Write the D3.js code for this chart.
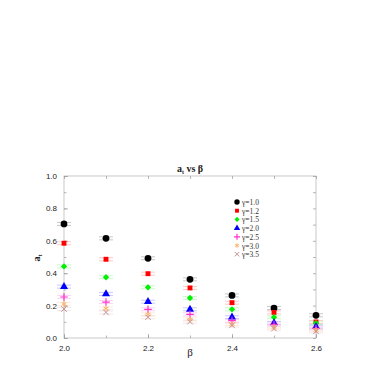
<!DOCTYPE html>
<html>
<head>
<meta charset="utf-8">
<script src="https://cdn.jsdelivr.net/npm/d3@7"></script>
<style>
  body { margin: 0; background: #fff; }
  svg { display: block; }
</style>
</head>
<body>
<div id="host"><svg></svg></div>
<script>
const W = 382;
const H = 382;
const M = { left: 64, right: 66, top: 176, bottom: 44 };

const BETAS = [2.0, 2.1, 2.2, 2.3, 2.4, 2.5, 2.6];
const GAMMAS = ["1.0", "1.2", "1.5", "2.0", "2.5", "3.0", "3.5"];
const SERIES_G10 = [0.704, 0.615, 0.492, 0.362, 0.263, 0.185, 0.14];
const SERIES_G12 = [0.585, 0.486, 0.397, 0.309, 0.218, 0.158, 0.099];
const SERIES_G15 = [0.442, 0.375, 0.313, 0.247, 0.177, 0.128, 0.091];
const SERIES_G20 = [0.317, 0.272, 0.224, 0.177, 0.128, 0.093, 0.07];
const SERIES_G25 = [0.253, 0.222, 0.177, 0.146, 0.107, 0.084, 0.06];
const SERIES_G30 = [0.21, 0.183, 0.146, 0.115, 0.086, 0.066, 0.049];
const SERIES_G35 = [0.179, 0.158, 0.128, 0.101, 0.078, 0.058, 0.041];
const X_TICKS = [2.0, 2.2, 2.4, 2.6];
const Y_TICKS = [0, 0.2, 0.4, 0.6, 0.8, 1.0];

const COLORS = ["#000000", "#ff0000", "#00ee00", "#0000ff", "#ff33cc", "#ffb36b", "#c89090"];
const SHAPES = ["circle", "square", "diamond", "triangle", "plus", "star", "cross"];
const ALL = [SERIES_G10, SERIES_G12, SERIES_G15, SERIES_G20, SERIES_G25, SERIES_G30, SERIES_G35];

const svg = d3.select("#host svg").attr("width", W).attr("height", H);

const x = d3.scaleLinear().domain([2.0, 2.6]).range([M.left, W - M.right]);
const y = d3.scaleLinear().domain([0, 1]).range([H - M.bottom, M.top]);

// frame
svg.append("rect")
  .attr("x", x(2.0)).attr("y", y(1))
  .attr("width", x(2.6) - x(2.0)).attr("height", y(0) - y(1))
  .attr("fill", "none").attr("stroke", "#bbb").attr("stroke-width", 0.8);

function styleAxis(g) {
  g.select(".domain").remove();
  g.selectAll("line").attr("stroke", "#999").attr("stroke-width", 0.7);
  g.selectAll("text")
    .attr("font-family", "Liberation Sans, Arial, sans-serif")
    .attr("font-size", 8).attr("fill", "#222");
}

// labelled axes, ticks inward
svg.append("g").attr("transform", `translate(0,${y(0)})`)
  .call(d3.axisBottom(x).tickValues(X_TICKS).tickFormat(d3.format(".1f")).tickSizeInner(-4).tickPadding(7))
  .call(styleAxis);
svg.append("g").attr("transform", `translate(0,${y(0)})`)
  .call(d3.axisBottom(x).tickValues(BETAS).tickFormat("").tickSizeInner(-2.5))
  .call(styleAxis);
svg.append("g").attr("transform", `translate(0,${y(1)})`)
  .call(d3.axisTop(x).tickValues(BETAS).tickFormat("").tickSizeInner(-3))
  .call(styleAxis);

svg.append("g").attr("transform", `translate(${x(2.0)},0)`)
  .call(d3.axisLeft(y).tickValues(Y_TICKS).tickFormat(d3.format(".1f")).tickSizeInner(-4).tickPadding(7))
  .call(styleAxis);
svg.append("g").attr("transform", `translate(${x(2.0)},0)`)
  .call(d3.axisLeft(y).ticks(10).tickFormat("").tickSizeInner(-2.5))
  .call(styleAxis);
svg.append("g").attr("transform", `translate(${x(2.6)},0)`)
  .call(d3.axisRight(y).ticks(10).tickFormat("").tickSizeInner(-3))
  .call(styleAxis);

function drawMarker(g, shape, color, k) {
  const types = {
    circle: d3.symbolCircle, square: d3.symbolSquare, triangle: d3.symbolTriangle,
    star: d3.symbolAsterisk, cross: d3.symbolTimes
  };
  if (shape === "plus") {
    const r = 3.8 * k;
    g.append("path").attr("d", `M${-r},0H${r}M0,${-r}V${r}`).attr("stroke", color).attr("stroke-width", 1.2);
    return;
  }
  if (shape === "diamond") {
    g.append("path").attr("d", d3.symbol(d3.symbolSquare, 20 * k * k)())
      .attr("transform", "rotate(45)").attr("fill", color);
    return;
  }
  const sizes = { circle: 36, square: 24, triangle: 28, star: 24, cross: 22 };
  const stroked = shape === "star" || shape === "cross";
  g.append("path").attr("d", d3.symbol(types[shape], sizes[shape] * k * k)())
    .attr("fill", stroked ? "none" : color)
    .attr("stroke", stroked ? color : "none")
    .attr("stroke-width", 1);
}

ALL.forEach((vals, si) => {
  const g = svg.append("g");
  vals.forEach((v, i) => {
    const px = x(BETAS[i]), py = y(v);
    // faint error caps
    [-1.5, 1.5].forEach(dy => {
      g.append("line").attr("x1", px - 7).attr("x2", px + 7).attr("y1", py + dy).attr("y2", py + dy)
        .attr("stroke", COLORS[si]).attr("stroke-opacity", 0.22).attr("stroke-width", 1);
    });
    const m = g.append("g").attr("transform", `translate(${px},${py})`);
    drawMarker(m, SHAPES[si], COLORS[si], 1);
  });
});

// legend
const leg = svg.append("g").attr("transform", "translate(237,202)");
GAMMAS.forEach((gm, i) => {
  const row = leg.append("g").attr("transform", `translate(0,${i * 8.7})`);
  drawMarker(row, SHAPES[i], COLORS[i], 0.8);
  row.append("text").attr("x", 5).attr("y", 3)
    .attr("font-family", "Liberation Serif, Times New Roman, serif")
    .attr("font-size", 7.5).attr("fill", "#333")
    .text("\u03b3=" + gm);
});

// title
const title = svg.append("text").attr("x", 190).attr("y", 172)
  .attr("text-anchor", "middle")
  .attr("font-family", "Liberation Serif, Times New Roman, serif")
  .attr("font-weight", "bold").attr("font-size", 10).attr("fill", "#222");
title.append("tspan").text("a");
title.append("tspan").attr("font-size", 6).attr("dy", 2).text("t");
title.append("tspan").attr("dy", -2).text(" vs \u03b2");

// axis labels
svg.append("text").attr("x", 190).attr("y", 356).attr("text-anchor", "middle")
  .attr("font-family", "Liberation Serif, Times New Roman, serif")
  .attr("font-size", 11).attr("fill", "#222").text("\u03b2");

const yl = svg.append("text").attr("transform", "translate(40,258) rotate(-90)")
  .attr("text-anchor", "middle")
  .attr("font-family", "Liberation Serif, Times New Roman, serif")
  .attr("font-weight", "bold").attr("font-size", 10).attr("fill", "#222");
yl.append("tspan").text("a");
yl.append("tspan").attr("font-size", 6).attr("dy", 2).text("t");
</script>
</body>
</html>
